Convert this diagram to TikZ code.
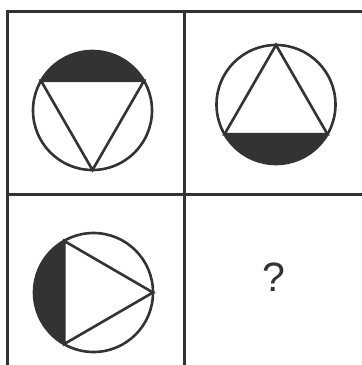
\documentclass[tikz,border=0pt]{standalone}
\usepackage{fontspec}
\setmainfont{Liberation Sans}
\definecolor{ink}{HTML}{333333}
\begin{document}
\begin{tikzpicture}[x=1pt,y=-1pt,
  gridline/.style={draw=ink,line width=3pt},
  figline/.style={draw=ink,line width=2.6pt,line join=miter},
  blk/.style={fill=ink}]
\useasboundingbox[fill=white] (0,0) rectangle (362,365);
% grid
\coordinate (tl) at (7,11);
\coordinate (tr) at (362,11);
\coordinate (bl) at (7,365);
\coordinate (mt) at (184,11);
\coordinate (mb) at (184,365);
\coordinate (ml) at (7,194);
\coordinate (mr) at (362,194);
\draw[gridline] (tr) -- (tl) -- (bl);
\draw[gridline] (mt) -- (mb);
\draw[gridline] (ml) -- (mr);
% cell 1: inverted triangle, top segment black
\coordinate (c1) at (92.5,110.5);
\begin{scope}
  \clip (c1) circle[radius=59.5];
  \fill[blk] (20,40) rectangle (170,80.75);
\end{scope}
\draw[figline] (c1) circle[radius=59.5];
\draw[figline] (41,80.75) -- (144,80.75) -- (92.5,170) -- cycle;
% cell 2: upright triangle, bottom segment black
\coordinate (c2) at (276,104.5);
\begin{scope}
  \clip (c2) circle[radius=59.5];
  \fill[blk] (200,134.25) rectangle (350,170);
\end{scope}
\draw[figline] (c2) circle[radius=59.5];
\draw[figline] (276,45) -- (327.5,134.25) -- (224.5,134.25) -- cycle;
% cell 3: right-pointing triangle, left segment black
\coordinate (c3) at (93.5,292.5);
\begin{scope}
  \clip (c3) circle[radius=59.5];
  \fill[blk] (25,225) rectangle (64.25,360);
\end{scope}
\draw[figline] (c3) circle[radius=59.5];
\draw[figline] (64.25,241) -- (153,292.5) -- (64.25,344) -- cycle;
% cell 4
\node[text=ink,font=\fontsize{41}{41}\selectfont,inner sep=0pt] (q) at (274,277) {?};
\end{tikzpicture}
\end{document}
